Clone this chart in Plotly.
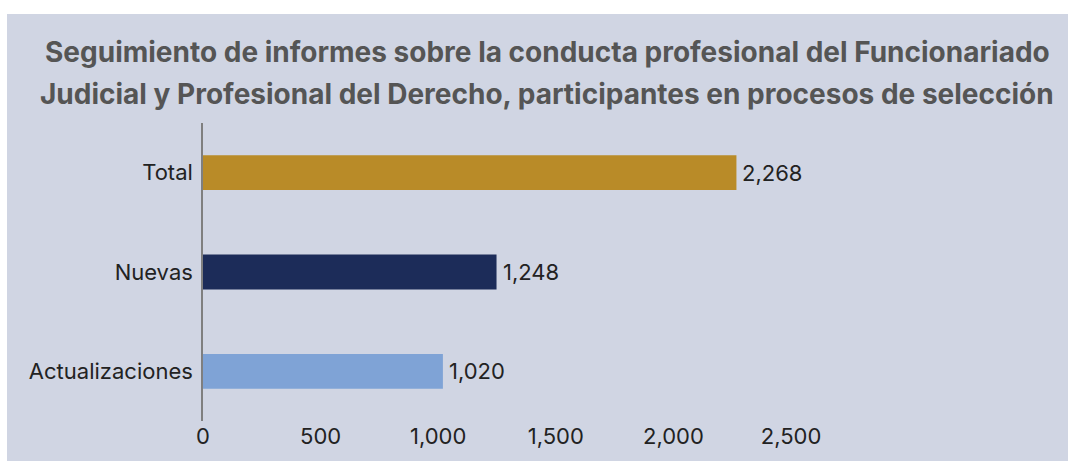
import plotly.graph_objects as go

categories = ["Total", "Nuevas", "Actualizaciones"]
values = [2268, 1248, 1020]
bar_colors = ["#b98b28", "#1c2c59", "#7fa3d6"]
value_labels = ["2,268", "1,248", "1,020"]
title_lines = [
    "Seguimiento de informes sobre la conducta profesional del Funcionariado",
    "Judicial y Profesional del Derecho, participantes en procesos de selección",
]

W, H = 1068, 461
L, R, T, B = 203, 277, 123, 37
PW, PH = W - L - R, H - T - B

def px_x(px):
    return (px - L) / PW

def px_y(py):
    return (H - B - py) / PH

BG = "#d0d5e3"
FONT = "Inter"
TXT = 22

fig = go.Figure()
fig.add_trace(go.Bar(
    y=categories, x=values, orientation="h",
    marker=dict(color=bar_colors, line=dict(width=0)),
    hoverinfo="skip",
))

annotations = []
for c, v, t in zip(categories, values, value_labels):
    annotations.append(dict(x=v, y=c, xref="x", yref="y", text=t, showarrow=False,
                            xanchor="left", yanchor="middle", xshift=4,
                            font=dict(family=FONT, size=TXT, color="#222222")))
for i, (line, py) in enumerate(zip(title_lines, [51, 94])):
    annotations.append(dict(x=px_x(547), y=px_y(py), xref="paper", yref="paper",
                            text="<b>" + line + "</b>", showarrow=False,
                            xanchor="center", yanchor="middle",
                            font=dict(family=FONT, size=28, color="#555555")))

shapes = [
    dict(type="rect", xref="paper", yref="paper", x0=px_x(-5), x1=px_x(W + 5),
         y0=px_y(-5), y1=px_y(13), fillcolor="white", line=dict(width=0), layer="above"),
    dict(type="rect", xref="paper", yref="paper", x0=px_x(-5), x1=px_x(7),
         y0=px_y(-5), y1=px_y(H + 5), fillcolor="white", line=dict(width=0), layer="above"),
]

fig.update_layout(
    width=W, height=H,
    margin=dict(l=L, r=R, t=T, b=B, pad=0),
    paper_bgcolor=BG, plot_bgcolor=BG,
    bargap=0.65,
    showlegend=False,
    annotations=annotations,
    shapes=shapes,
    font=dict(family=FONT, size=TXT, color="#222222"),
    xaxis=dict(range=[0, 2500], dtick=500, tickformat=",", showgrid=False,
               zeroline=False, showline=False, ticks="",
               tickfont=dict(family=FONT, size=TXT, color="#222222"), fixedrange=True),
    yaxis=dict(categoryorder="array", categoryarray=categories[::-1],
               showgrid=False, zeroline=False, showline=True, linecolor="#7f7f7f",
               linewidth=1.5, ticks="", ticklabelstandoff=4,
               tickfont=dict(family=FONT, size=TXT, color="#222222"), fixedrange=True),
)

fig.write_html("out.html", config={"displayModeBar": False},
               post_script="document.body.style.margin='0';document.body.style.overflow='hidden';")
